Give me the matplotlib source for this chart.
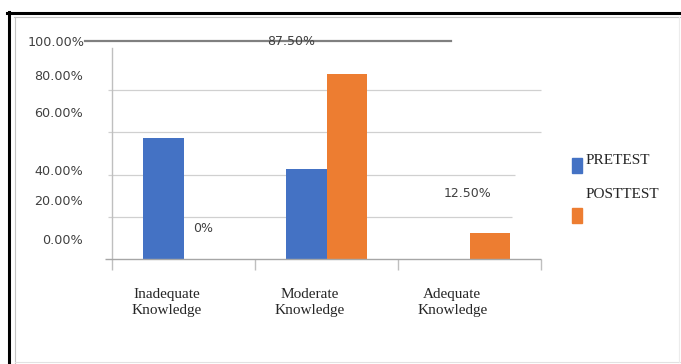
import matplotlib
matplotlib.use("Agg")
import matplotlib.pyplot as plt
from matplotlib.lines import Line2D
from matplotlib.patches import Rectangle
import numpy as np

W, H = 681, 364
BLUE = "#4472C4"
ORANGE = "#ED7D31"
GRID = "#d0d0d0"
AXIS = "#bfbfbf"
TXT = "#404040"
SERIF = "Liberation Serif"

categories = ["Inadequate\nKnowledge", "Moderate\nKnowledge", "Adequate\nKnowledge"]
pretest = [57.5, 42.5, 0.0]
posttest = [0.0, 87.5, 12.5]
post_labels = ["0%", "87.50%", "12.50%"]
yticks = [0, 20, 40, 60, 80, 100]
ytick_labels = ["0.00%", "20.00%", "40.00%", "60.00%", "80.00%", "100.00%"]


def fx(px):
    return px / W


def fy(py):
    return 1 - py / H


fig = plt.figure(figsize=(W / 100, H / 100), dpi=100)
ax = fig.add_axes([fx(112), fy(259), (541 - 112) / W, (259 - 48) / H])

x = np.arange(len(categories))
bw = 0.28
ax.bar(x - bw / 2, pretest, width=bw, color=BLUE, zorder=3)
ax.bar(x + bw / 2, posttest, width=bw, color=ORANGE, zorder=3)

ax.set_xlim(-0.5, 2.5)
ax.set_ylim(0, 100)

# gridlines stop at uneven lengths
grid_ends = {20: 2.30, 40: 2.32, 60: 2.5, 80: 2.5}
for v, xe in grid_ends.items():
    ax.hlines(v, -0.528, xe, color=GRID, lw=0.9, clip_on=False, zorder=1)
ax.hlines(0, -0.549, 2.5, color="#a6a6a6", lw=1.0, clip_on=False, zorder=4)
ax.plot([-0.689, 1.871], [103.2, 103.2], color="#808080", lw=1.6,
        clip_on=False, zorder=2)

for s in ["top", "right", "bottom"]:
    ax.spines[s].set_visible(False)
ax.spines["left"].set_color(AXIS)
ax.spines["left"].set_linewidth(1.0)

ax.set_xticks([-0.5, 0.5, 1.5, 2.5])
ax.set_xticklabels([])
ax.tick_params(axis="x", length=7.9, width=1.0, color=AXIS, direction="out")
ax.set_yticks([])

# value-axis labels sit a little off their gridlines
ylab_dy = [19, 15, 3, 19, 14, 6]
ylab_dx = [-29, -29, -29, -29, -29, -27]
for v, lab, dy, dx in zip(yticks, ytick_labels, ylab_dy, ylab_dx):
    ax.annotate(lab, xy=(0, v), xycoords=("axes fraction", "data"),
                xytext=(dx, dy), textcoords="offset pixels",
                ha="right", va="center", fontsize=9.2, color=TXT,
                family="DejaVu Sans", annotation_clip=False)

for i, lab in enumerate(categories):
    ax.annotate(lab, xy=(i - 0.12, 0), xycoords=("data", "axes fraction"),
                xytext=(0, -43.5), textcoords="offset pixels",
                ha="center", va="center", multialignment="center",
                fontsize=11, color="#262626", family=SERIF,
                linespacing=1.25, annotation_clip=False)

# posttest data labels
lab_off = [(0, 31), (-55, 33), (-21.5, 39.6)]
for i, (v, lab) in enumerate(zip(posttest, post_labels)):
    dx, dy = lab_off[i]
    ax.annotate(lab, xy=(i + bw / 2, v), xytext=(dx, dy),
                textcoords="offset pixels", ha="center", va="center",
                fontsize=9, color=TXT, family="DejaVu Sans",
                annotation_clip=False, zorder=5)

# legend
for (y0, col, name, ty) in [(158, BLUE, "PRETEST", 161), (208, ORANGE, "POSTTEST", 195)]:
    fig.add_artist(Rectangle((fx(572), fy(y0 + 15)), 10 / W, 15 / H,
                             transform=fig.transFigure, color=col))
    fig.text(fx(586), fy(ty), name, ha="left", va="center", fontsize=11,
             color="#262626", family=SERIF)

# outer frame
fig.add_artist(Line2D([fx(7), 1], [fy(12.5), fy(12.5)], color="black", lw=2.2))
fig.add_artist(Line2D([fx(8.5), fx(8.5)], [fy(11.5), 0], color="black", lw=2.2))
fig.add_artist(Line2D([fx(14), 1], [fy(16.5), fy(16.5)], color="#c4c4c4", lw=0.8))
fig.add_artist(Line2D([fx(15), fx(15)], [fy(16.5), 0], color="#c4c4c4", lw=0.8))
fig.add_artist(Line2D([fx(15), 1], [fy(362), fy(362)], color="#e2e2e2", lw=0.8))
fig.add_artist(Line2D([fx(679), fx(679)], [fy(17), fy(362)], color="#ececec", lw=0.8))

fig.savefig("out.png", dpi=100)
